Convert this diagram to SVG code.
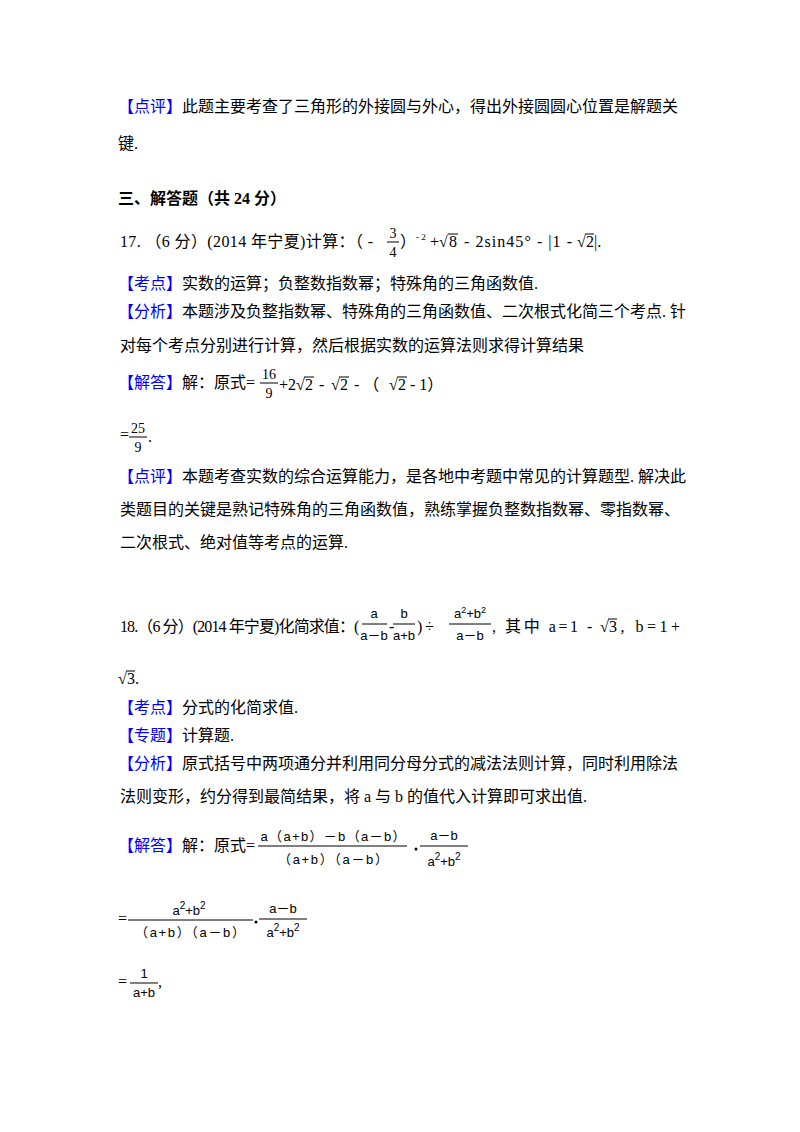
<svg xmlns="http://www.w3.org/2000/svg" width="800" height="1132" viewBox="0 0 800 1132">
<style>
text{font-family:"Liberation Serif","Noto Sans CJK SC",serif;font-size:16px;fill:#000}
.b{fill:#0000ff}
.s{font-family:"Liberation Sans","Noto Sans CJK SC",sans-serif;font-size:13px}
.f{font-size:14px}
.sup{font-size:9px}
.m{text-anchor:middle}
.bold{font-weight:bold}
line{stroke:#000;stroke-width:1}
</style>
<rect width="800" height="1132" fill="#fff"/>
<text x="118" y="112"><tspan class="b">【点评】</tspan>此题主要考查了三角形的外接圆与外心，得出外接圆圆心位置是解题关</text>
<text x="118" y="149">键.</text>
<text x="118" y="204" class="bold">三、解答题（共 24 分）</text>

<g id="q17">
<text x="120" y="247" textLength="253" lengthAdjust="spacing">17. （6 分）(2014 年宁夏)计算：（&#160;-</text>
<text x="393" y="238" class="m f">3</text>
<line x1="387" y1="242" x2="399" y2="242"/>
<text x="393" y="257" class="m f">4</text>
<text x="400" y="247">）</text>
<text x="416" y="240" class="sup">-&#160;2</text>
<text x="430" y="247">+√</text>
<line x1="448" y1="234" x2="458" y2="234"/>
<text x="449" y="247">8</text>
<text x="459" y="247" textLength="118" lengthAdjust="spacing">&#160;-&#160;2sin45°&#160;-&#160;|1&#160;-&#160;</text>
<text x="577" y="247">√</text>
<line x1="585" y1="234" x2="594" y2="234"/>
<text x="586" y="247">2|.</text>
</g>

<text x="118" y="289"><tspan class="b">【考点】</tspan>实数的运算；负整数指数幂；特殊角的三角函数值.</text>
<text x="118" y="317"><tspan class="b">【分析】</tspan>本题涉及负整指数幂、特殊角的三角函数值、二次根式化简三个考点. 针</text>
<text x="120" y="351">对每个考点分别进行计算，然后根据实数的运算法则求得计算结果</text>

<g id="a17">
<text x="118" y="388"><tspan class="b">【解答】</tspan>解：原式=</text>
<text x="269" y="379" class="m f">16</text>
<line x1="260" y1="383" x2="278" y2="383"/>
<text x="269" y="398" class="m f">9</text>
<text x="279" y="390">+2</text>
<text x="296" y="390">√</text>
<line x1="304" y1="377" x2="314" y2="377"/>
<text x="305" y="390">2</text>
<text x="315" y="390">&#160;-&#160;</text>
<text x="331" y="390">√</text>
<line x1="339" y1="377" x2="349" y2="377"/>
<text x="340" y="390">2</text>
<text x="350" y="390">&#160;-&#160;（</text>
<text x="389" y="390">√</text>
<line x1="397" y1="377" x2="407" y2="377"/>
<text x="398" y="390">2&#160;-&#160;1）</text>
<text x="120" y="440">=</text>
<text x="138" y="433" class="m f">25</text>
<line x1="129" y1="437" x2="147" y2="437"/>
<text x="138" y="452" class="m f">9</text>
<text x="148" y="442">.</text>
</g>

<text x="118" y="482"><tspan class="b">【点评】</tspan>本题考查实数的综合运算能力，是各地中考题中常见的计算题型. 解决此</text>
<text x="120" y="515">类题目的关键是熟记特殊角的三角函数值，熟练掌握负整数指数幂、零指数幂、</text>
<text x="120" y="548">二次根式、绝对值等考点的运算.</text>

<g id="q18">
<text x="120" y="632" textLength="235" lengthAdjust="spacing">18.（6 分）(2014 年宁夏)化简求值：</text>
<text x="354" y="632">(</text>
<text x="374" y="618" class="s m">a</text>
<line x1="362" y1="624" x2="387" y2="624"/>
<text x="374" y="640" class="s m">a－b</text>
<text x="389" y="632">-</text>
<text x="404" y="618" class="s m">b</text>
<line x1="393" y1="624" x2="415" y2="624"/>
<text x="404" y="640" class="s m">a+b</text>
<text x="417" y="632">)</text>
<text x="425" y="632">÷</text>
<text x="470" y="618" class="s m">a<tspan font-size="9" dy="-5">2</tspan><tspan dy="5">+b</tspan><tspan font-size="9" dy="-5">2</tspan></text>
<line x1="449" y1="624" x2="491" y2="624"/>
<text x="470" y="640" class="s m">a－b</text>
<text x="492" y="632" textLength="107" lengthAdjust="spacing">, 其中 a=1&#160;-&#160;</text>
<text x="600" y="632">√</text>
<line x1="608" y1="619" x2="617" y2="619"/>
<text x="609" y="632" textLength="71" lengthAdjust="spacing">3, b=1+</text>
<text x="118" y="684">√</text>
<line x1="126" y1="671" x2="135" y2="671"/>
<text x="127" y="684">3.</text>
</g>

<text x="118" y="713"><tspan class="b">【考点】</tspan>分式的化简求值.</text>
<text x="118" y="741"><tspan class="b">【专题】</tspan>计算题.</text>
<text x="118" y="769"><tspan class="b">【分析】</tspan>原式括号中两项通分并利用同分母分式的减法法则计算，同时利用除法</text>
<text x="120" y="802">法则变形，约分得到最简结果，将 a 与 b 的值代入计算即可求出值.</text>

<g id="a18">
<text x="118" y="851"><tspan class="b">【解答】</tspan>解：原式=</text>
<text x="333" y="841" class="s m" textLength="145" lengthAdjust="spacing">a（a+b）－b（a－b）</text>
<line x1="258" y1="846" x2="407" y2="846"/>
<text x="333" y="864" class="s m" textLength="110" lengthAdjust="spacing">（a+b）（a－b）</text>
<circle cx="416" cy="849" r="1.5" fill="#000"/>
<text x="444" y="840" class="s m">a－b</text>
<line x1="420" y1="846" x2="468" y2="846"/>
<text x="444" y="866" class="s m">a<tspan font-size="10" dy="-6">2</tspan><tspan dy="6">+b</tspan><tspan font-size="10" dy="-6">2</tspan></text>

<text x="118" y="924">=</text>
<text x="189" y="915" class="s m">a<tspan font-size="10" dy="-6">2</tspan><tspan dy="6">+b</tspan><tspan font-size="10" dy="-6">2</tspan></text>
<line x1="128" y1="920" x2="253" y2="920"/>
<text x="190" y="937" class="s m" textLength="110" lengthAdjust="spacing">（a+b）（a－b）</text>
<circle cx="256" cy="922" r="1.5" fill="#000"/>
<text x="283" y="913" class="s m">a－b</text>
<line x1="259" y1="919" x2="307" y2="919"/>
<text x="283" y="937" class="s m">a<tspan font-size="10" dy="-6">2</tspan><tspan dy="6">+b</tspan><tspan font-size="10" dy="-6">2</tspan></text>

<text x="118" y="987">=</text>
<text x="144" y="978" class="s m">1</text>
<line x1="130" y1="983" x2="158" y2="983"/>
<text x="144" y="997" class="s m">a+b</text>
<text x="158" y="987">,</text>
</g>
</svg>
